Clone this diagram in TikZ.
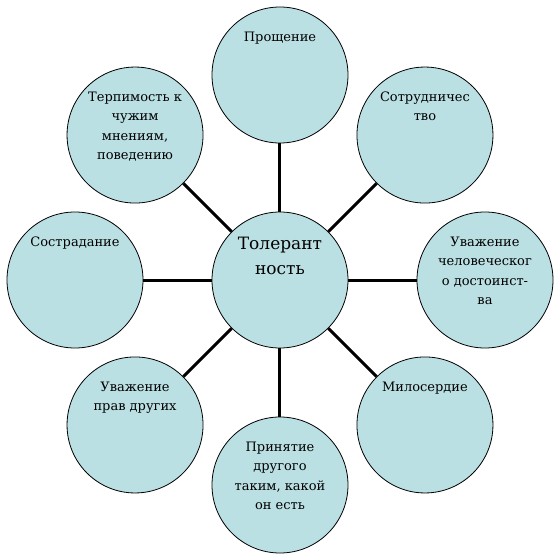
\documentclass[tikz,border=0pt]{standalone}
\usepackage{fontspec}
\setmainfont{DejaVu Serif}
\usetikzlibrary{trees}
\definecolor{bubblefill}{RGB}{187,224,227}

\begin{document}
\begin{tikzpicture}[
			x=1pt, y=1pt,
			clockwise from=90,
			level 1/.style={level distance=205pt, sibling angle=45},
			bubble/.style={circle, draw, line width=0.8pt, fill=bubblefill, minimum size=136pt, inner sep=0pt},
			caption/.style={anchor=north, yshift=-25pt, align=center, inner sep=0pt, font=\fontsize{13}{19.5}\selectfont},
			edge from parent/.style={draw, line width=3pt}
		]
		\useasboundingbox (-280,-280) rectangle (280,280);
		\node[bubble, label={[caption, font=\fontsize{17}{25}\selectfont]north:{Толерант\\ность}}] (tolerance) {}
		child { node[bubble, label={[caption]north:{Прощение}}] (forgiveness) {} }
		child { node[bubble, label={[caption]north:{Сотрудничес\\тво}}] (cooperation) {} }
		child { node[bubble, label={[caption]north:{Уважение\\человеческог\\о достоинст-\\ва}}] (dignity) {} }
		child { node[bubble, label={[caption]north:{Милосердие}}] (mercy) {} }
		child { node[bubble, label={[caption]north:{Принятие\\другого\\таким, какой\\он есть}}] (acceptance) {} }
		child { node[bubble, label={[caption]north:{Уважение\\прав других}}] (rights) {} }
		child { node[bubble, label={[caption]north:{Сострадание}}] (compassion) {} }
		child { node[bubble, label={[caption]north:{Терпимость к\\чужим\\мнениям,\\поведению}}] (patience) {} };
	\end{tikzpicture}
\end{document}
